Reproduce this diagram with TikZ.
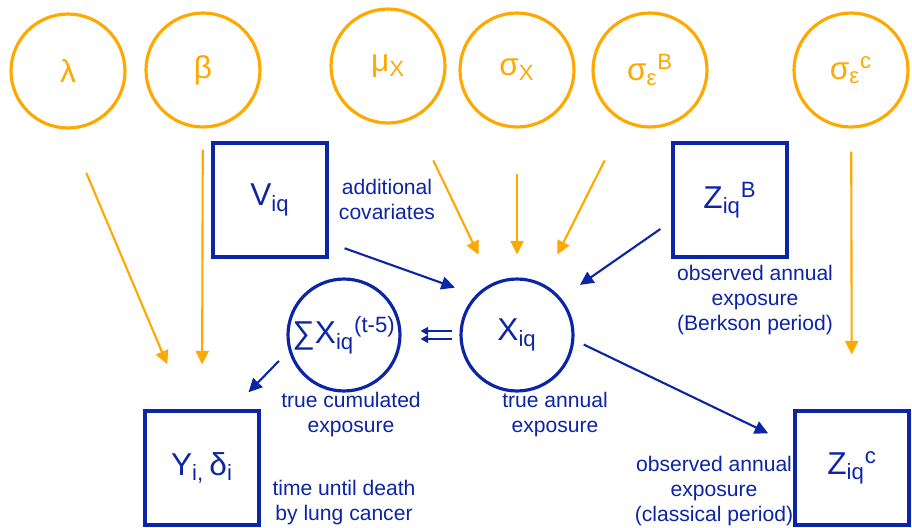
\documentclass[tikz,border=0pt]{standalone}
\usepackage{fontspec}
\setmainfont{Liberation Sans}
\usetikzlibrary{arrows.meta,positioning}
\definecolor{prior}{RGB}{255,168,0}
\definecolor{navy}{RGB}{12,36,166}

\begin{document}
\begin{tikzpicture}[x=0.02cm,y=-0.02cm,>={Triangle[length=2.7mm,width=2.6mm]},
  param/.style={draw=prior,line width=1.8pt,circle,minimum size=2.28cm,text=prior,font=\fontsize{18}{20}\selectfont},
  lat/.style={draw=navy,line width=1.8pt,circle,minimum size=2.24cm,inner sep=0pt,text=navy,font=\fontsize{18}{20}\selectfont},
  obs/.style={draw=navy,line width=1.8pt,rectangle,minimum size=2.28cm,text=navy,font=\fontsize{18}{20}\selectfont},
  note/.style={text=navy,align=center,inner sep=0pt,font=\fontsize{12}{14.2}\selectfont},
  parr/.style={->,draw=prior,fill=prior,line width=1.2pt},
  barr/.style={->,draw=navy,fill=navy,line width=1.2pt}]
\useasboundingbox (0,0) rectangle (912,527);
% hyperparameters
\node[param] (lam) at (68,71) {λ};
\node[param] (beta) at (203,70) {β};
\node[param] (mux) at (388,66) {μ\textsubscript{X}};
\node[param] (sigx) at (517,70) {σ\textsubscript{X}};
\node[param] (sigB) at (650,70) {σ\textsubscript{ε}\textsuperscript{B}};
\node[param] (sigC) at (851,70) {σ\textsubscript{ε}\textsuperscript{c}};
% observed and latent quantities
\node[obs] (V) at (270,200) {V\textsubscript{iq}};
\node[obs] (ZB) at (730,200) {Z\textsubscript{iq}\textsuperscript{B}};
\node[lat] (X) at (517,335) {X\textsubscript{iq}};
\node[lat] (S) at (344,335) {∑X\textsubscript{iq}\textsuperscript{(t-5)}};
\node[obs] (Y) at (202,468) {Y\textsubscript{i,}\,δ\textsubscript{i}};
\node[obs] (ZC) at (852,468) {Z\textsubscript{iq}\textsuperscript{c}};
% descriptions
\node[note] (cov) at (387,199) {additional\\covariates};
\node[note] (berk) at (755,300) {observed annual\\exposure\\(Berkson period)};
\node[note] (cum) at (351,415) {true cumulated\\exposure};
\node[note] (ann) at (555,415) {true annual\\exposure};
\node[note] (surv) at (344,503) {time until death\\by lung cancer};
\node[note] (clas) at (714,491) {observed annual\\exposure\\(classical period)};
% prior arrows
\draw[parr,shorten <=0.94cm,shorten >=0.98cm] (lam.south) -- (Y.105);
\draw[parr,shorten <=0.42cm,shorten >=0.9cm] (beta) -- (Y.north);
\draw[parr,shorten <=0.92cm,shorten >=0.63cm] (mux) -- (X);
\draw[parr,shorten <=0.9cm,shorten >=0.46cm] (sigx) -- (X);
\draw[parr,shorten <=0.85cm,shorten >=0.65cm] (sigB) -- (X);
\draw[parr,shorten <=0.46cm,shorten >=1.1cm] (sigC) -- (ZC);
% model arrows
\draw[barr,shorten <=0.34cm,shorten >=0.44cm] (V.-36) -- (X.136);
\draw[barr,shorten <=0.27cm,shorten >=0.46cm] (ZB.200) -- (X.40);
\draw[barr,shorten <=0.28cm,shorten >=0.48cm] (S.196) -- (Y.63);
\draw[barr,shorten <=0.21cm,shorten >=0.56cm] (X.-5) -- (ZC.159);
\draw[-{Triangle[length=1.5mm,width=1.6mm]},draw=navy,fill=navy,line width=0.8pt,shorten <=0.14cm,shorten >=0.38cm] ([yshift=0.08cm]X.west) -- ([yshift=0.08cm]S.east);
\draw[-{Triangle[length=1.5mm,width=1.6mm]},draw=navy,fill=navy,line width=0.8pt,shorten <=0.14cm,shorten >=0.38cm] ([yshift=-0.08cm]X.west) -- ([yshift=-0.08cm]S.east);
\end{tikzpicture}
\end{document}
